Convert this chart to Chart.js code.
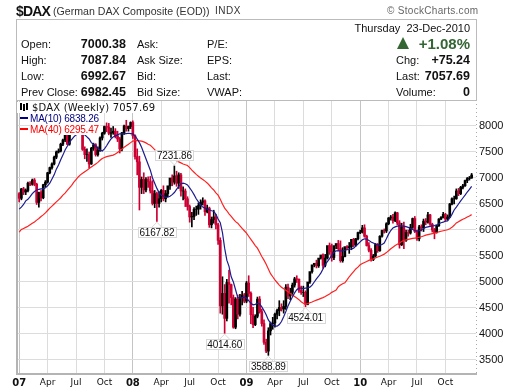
<!DOCTYPE html>
<html>
<head>
<meta charset="utf-8">
<title>$DAX</title>
<script src="https://cdn.jsdelivr.net/npm/chart.js@4"></script>
<style>
    html, body { margin: 0; padding: 0; background: #fff; }
    #page { position: relative; width: 520px; height: 391px; overflow: hidden; font-family: "Liberation Sans", Arial, sans-serif; color: #111; }
    #page canvas { position: absolute; left: 0; top: 0; }
    .t { position: absolute; white-space: nowrap; font-size: 11px; line-height: 14px; }
    .b { font-weight: bold; font-size: 12.5px; }
    .r { text-align: right; }
    #box { position: absolute; left: 16px; top: 19px; width: 459px; height: 80px; border: 1px solid #bbb; }
    .leg { position: absolute; white-space: nowrap; background: #fff; padding-right: 1px; }
</style>
</head>
<body>
<div id="page">
    <canvas id="daxChart" width="520" height="391"></canvas>
    <div id="box"></div>
    <div class="t b" style="left:16px;top:3px;font-size:14px;line-height:16px;letter-spacing:-0.8px">$DAX</div>
    <div class="t" style="left:53px;top:4px;font-size:10.6px;color:#333">(German DAX Composite (EOD))</div>
    <div class="t" style="left:215px;top:4px;font-size:10px;letter-spacing:0.5px;color:#333">INDX</div>
    <div class="t" style="left:387px;top:4px;font-size:10px;letter-spacing:0.3px;color:#666">© StockCharts.com</div>

    <div class="t" style="left:21px;top:37px">Open:</div>
    <div class="t" style="left:21px;top:53px">High:</div>
    <div class="t" style="left:21px;top:69px">Low:</div>
    <div class="t" style="left:21px;top:85px">Prev Close:</div>
    <div class="t b r" style="left:66px;width:60px;top:37px">7000.38</div>
    <div class="t b r" style="left:66px;width:60px;top:53px">7087.84</div>
    <div class="t b r" style="left:66px;width:60px;top:69px">6992.67</div>
    <div class="t b r" style="left:66px;width:60px;top:85px">6982.45</div>
    <div class="t" style="left:137px;top:37px">Ask:</div>
    <div class="t" style="left:137px;top:53px">Ask Size:</div>
    <div class="t" style="left:137px;top:69px">Bid:</div>
    <div class="t" style="left:137px;top:85px">Bid Size:</div>
    <div class="t" style="left:207px;top:37px">P/E:</div>
    <div class="t" style="left:207px;top:53px">EPS:</div>
    <div class="t" style="left:207px;top:69px">Last:</div>
    <div class="t" style="left:207px;top:85px">VWAP:</div>

    <div class="t r" style="left:340px;width:130px;top:21px">Thursday&nbsp; 23-Dec-2010</div>
    <div style="position:absolute;left:397px;top:37px;width:0;height:0;border-left:6px solid transparent;border-right:6px solid transparent;border-bottom:12px solid #336633"></div>
    <div class="t b r" style="left:400px;width:70px;top:35px;font-size:15px;line-height:17px;color:#336633">+1.08%</div>
    <div class="t" style="left:396px;top:53px">Chg:</div>
    <div class="t b r" style="left:410px;width:60px;top:53px">+75.24</div>
    <div class="t" style="left:396px;top:69px">Last:</div>
    <div class="t b r" style="left:410px;width:60px;top:69px">7057.69</div>
    <div class="t" style="left:396px;top:85px">Volume:</div>
    <div class="t b r" style="left:410px;width:60px;top:85px">0</div>

    <div style="position:absolute;left:17px;top:102px;width:15px;height:11px;background:#fff"></div>
    <div style="position:absolute;left:20px;top:103px;width:2px;height:7px;background:#000"></div>
    <div style="position:absolute;left:23px;top:104px;width:2px;height:7px;background:#000"></div>
    <div style="position:absolute;left:26px;top:103px;width:2px;height:7px;background:#000"></div>
    <div class="leg" style="left:32px;top:102px;font:10px/11px 'DejaVu Sans',sans-serif;letter-spacing:0.2px;color:#111">$DAX (Weekly) 7057.69</div>
    <div style="position:absolute;left:20px;top:117px;width:8px;height:2px;background:#000080"></div>
    <div class="leg" style="left:30px;top:113px;font:10px/11px 'Liberation Sans',sans-serif;letter-spacing:-0.2px;color:#000080">MA(10) 6838.26</div>
    <div style="position:absolute;left:20px;top:128px;width:8px;height:2px;background:#ff0000"></div>
    <div class="leg" style="left:30px;top:124px;font:10px/11px 'Liberation Sans',sans-serif;letter-spacing:-0.2px;color:#ff0000">MA(40) 6295.47</div>
</div>

<script>
// weekly bars, Jan 2007 to Dec 2010
const opens = [
    6700,6610,6790,6730,6760,6900,6880,6960,6880,6530,
    6720,6620,6870,6920,7100,7200,7270,7400,7500,7520,
    7650,7730,7880,7650,8030,7900,8000,8090,8080,7900,
    7550,7450,7450,7270,7570,7640,7450,7530,7770,7860,
    7990,7980,7860,7870,7900,7810,7750,7560,7870,8000,
    7950,7990,
    8067,7810,7410,7310,6820,6970,6770,6970,6930,6750,
    6510,6700,6510,6600,6760,6600,6700,6850,7000,6920,
    7040,6900,7060,6750,6750,6600,6450,6250,6260,6400,
    6400,6470,6530,6560,6350,6420,6100,6200,6250,6100,
    5800,4540,4780,4300,4990,4950,4700,4130,4670,4380,
    4700,4750,
    4630,4980,4780,4370,4180,4340,4670,4430,4200,3840,
    3670,4060,4200,4210,4380,4450,4510,4480,4530,4900,
    4730,4800,4940,5060,5050,4840,4800,4800,4570,5000,
    5200,5330,5360,5310,5460,5520,5320,5460,5700,5580,
    5470,5700,5740,5640,5410,5490,5680,5660,5680,5820,
    5710,5830,
    5950,5960,6040,5880,5700,5610,5430,5500,5720,5600,
    5880,5990,5980,6120,6230,6250,6180,6330,6135,5715,
    6060,5800,5950,5940,6050,6220,5970,5830,6060,6040,
    6170,6150,6290,6110,6000,5950,6080,6210,6240,6300,
    6210,6250,6500,6600,6600,6750,6700,6820,6850,6950,
    6990,7000
];
const highs = [
    6720,6800,6820,6790,6920,6930,6980,6990,6900,6730,
    6760,6880,6950,7110,7210,7290,7420,7520,7560,7670,
    7750,7900,7890,8050,8060,8010,8110,8120,8100,7920,
    7600,7560,7500,7590,7670,7660,7600,7790,7880,8000,
    8060,8050,7960,7990,7950,7900,7780,7880,8020,8110,
    8000,8080,
    8100,7830,7560,7420,7020,7100,7010,7020,7030,6950,
    6760,6730,6740,6780,6850,6760,6760,6880,7060,7231,
    7130,7100,7090,6830,6790,6640,6480,6340,6430,6460,
    6520,6580,6620,6580,6480,6440,6250,6380,6300,6130,
    5850,5100,4950,5050,5230,4960,4750,4700,4750,4760,
    4820,4780,
    5010,5120,4810,4510,4370,4710,4720,4480,4270,3900,
    4120,4230,4320,4400,4480,4640,4580,4640,4950,4960,
    4880,4980,5090,5120,5060,4920,4920,4830,4640,5060,
    5220,5350,5420,5390,5480,5540,5530,5480,5750,5730,
    5620,5720,5800,5790,5660,5530,5700,5760,5730,5840,
    5840,5960,
    6000,6090,6100,5900,5760,5640,5530,5740,5740,5890,
    6000,6020,6140,6240,6280,6300,6350,6340,6180,6130,
    6150,6000,6000,6110,6230,6260,6000,6090,6100,6210,
    6220,6340,6300,6130,6030,6090,6220,6260,6340,6320,
    6290,6510,6620,6650,6790,6800,6840,6880,6960,7010,
    7030,7088
];
const lows = [
    6540,6580,6680,6680,6730,6850,6860,6850,6490,6440,
    6560,6600,6830,6900,7080,7170,7250,7370,7480,7500,
    7620,7700,7640,7630,7880,7850,7970,8040,7880,7530,
    7370,7320,7190,7260,7530,7420,7420,7510,7730,7840,
    7890,7830,7780,7840,7770,7700,7480,7520,7840,7900,
    7900,7950,
    7760,7360,7060,6384,6700,6700,6730,6820,6710,6480,
    6430,6167,6440,6540,6560,6540,6640,6780,6850,6880,
    6840,6800,6650,6580,6450,6380,6150,6060,6200,6280,
    6300,6400,6480,6280,6330,6050,6040,6130,6020,5720,
    4400,4380,4014,4250,4590,4560,4110,4100,4290,4340,
    4560,4600,
    4600,4720,4200,4120,4160,4310,4400,4150,3800,3640,
    3589,3980,4090,4130,4290,4350,4440,4400,4470,4680,
    4660,4750,4900,4990,4800,4760,4720,4524,4560,4970,
    5170,5290,5270,5280,5440,5260,5290,5440,5530,5400,
    5430,5640,5600,5380,5380,5480,5620,5550,5620,5680,
    5690,5810,
    5930,5940,5860,5690,5580,5400,5410,5480,5570,5590,
    5860,5940,5950,6100,6190,6130,6160,6100,5650,5700,
    5640,5780,5880,5920,6030,5950,5800,5790,5980,5970,
    6100,6130,6090,5960,5830,5940,6070,6200,6230,6170,
    6190,6240,6480,6500,6590,6660,6680,6790,6840,6910,
    6960,6993
];
const closes = [
    6610,6790,6730,6760,6900,6880,6960,6880,6530,6720,
    6620,6870,6920,7100,7200,7270,7400,7500,7520,7650,
    7730,7880,7650,8030,7900,8000,8090,8080,7900,7550,
    7450,7450,7270,7570,7640,7450,7530,7770,7860,7990,
    7980,7860,7870,7900,7810,7750,7560,7870,8000,7950,
    7990,8067,
    7810,7410,7310,6820,6970,6770,6970,6930,6750,6510,
    6700,6510,6600,6760,6600,6700,6850,7000,6920,7040,
    6900,7060,6750,6750,6600,6450,6250,6260,6400,6400,
    6470,6530,6560,6350,6420,6100,6200,6250,6100,5800,
    4540,4780,4300,4990,4950,4700,4130,4670,4380,4700,
    4750,4630,
    4980,4780,4370,4180,4340,4670,4430,4200,3840,3670,
    4060,4200,4210,4380,4450,4510,4480,4530,4900,4730,
    4800,4940,5060,5050,4840,4800,4800,4570,5000,5200,
    5330,5360,5310,5460,5520,5320,5460,5700,5580,5470,
    5700,5740,5640,5410,5490,5680,5660,5680,5820,5710,
    5830,5950,
    5960,6040,5880,5700,5610,5430,5500,5720,5600,5880,
    5990,5980,6120,6230,6250,6180,6330,6135,5715,6060,
    5800,5950,5940,6050,6220,5970,5830,6060,6040,6170,
    6150,6290,6110,6000,5950,6080,6210,6240,6300,6210,
    6250,6500,6600,6600,6750,6700,6820,6850,6950,6990,
    7000,7057.69
];
const ma10 = [
    6400,6440,6490,6560,6590,6640,6700,6740,6770,6780,
    6790,6790,6810,6850,6900,6980,7060,7170,7250,7350,
    7440,7540,7610,7680,7740,7790,7830,7850,7860,7850,
    7830,7790,7750,7680,7650,7610,7570,7540,7520,7560,
    7620,7690,7750,7790,7810,7830,7850,7850,7850,7855,
    7860,7855,7850,7810,7750,7680,7590,7480,7370,7260,
    7150,7000,6900,6800,6720,6670,6650,6630,6630,6650,
    6680,6720,6780,6840,6890,6900,6890,6865,6810,6750,
    6680,6600,6540,6480,6440,6420,6400,6390,6370,6360,
    6300,6210,6140,5950,5650,5420,5300,5100,5000,4850,
    4700,4690,4700,4710,4690,4640,4590,4560,4570,4590,
    4580,4520,4450,4370,4270,4210,4170,4150,4150,4180,
    4240,4330,4430,4540,4630,4710,4790,4850,4880,4880,
    4875,4880,4885,4900,4940,5000,5060,5110,5170,5250,
    5340,5390,5450,5510,5570,5600,5600,5600,5600,5610,
    5620,5625,5635,5650,5690,5730,5770,5810,5830,5825,
    5800,5770,5750,5730,5715,5710,5720,5750,5830,5920,
    5990,6040,6060,6075,6080,6080,6075,6065,6050,6030,
    6010,5990,5980,5985,6000,6030,6050,6060,6070,6080,
    6085,6100,6120,6140,6150,6170,6175,6230,6300,6385,
    6440,6500,6560,6615,6670,6730,6780,6838.26
];
const ma40 = [
    5960,6010,6030,6050,6070,6100,6130,6155,6190,6220,
    6260,6290,6330,6375,6420,6460,6500,6540,6580,6620,
    6670,6710,6760,6810,6860,6920,6970,7020,7060,7090,
    7120,7150,7180,7210,7240,7270,7300,7340,7375,7395,
    7410,7420,7430,7440,7460,7490,7520,7560,7590,7620,
    7650,7680,7710,7720,7720,7715,7710,7695,7675,7650,
    7630,7590,7545,7500,7470,7440,7425,7410,7395,7380,
    7365,7350,7330,7310,7290,7270,7255,7240,7200,7150,
    7110,7070,7035,7000,6970,6940,6905,6860,6810,6770,
    6715,6670,6590,6500,6420,6370,6310,6260,6210,6160,
    6130,6080,6030,5985,5940,5880,5820,5760,5700,5650,
    5570,5490,5420,5340,5250,5160,5100,5040,4990,4940,
    4900,4870,4840,4810,4780,4750,4720,4690,4660,4620,
    4590,4575,4585,4600,4615,4635,4650,4665,4685,4700,
    4720,4745,4770,4800,4820,4845,4910,4940,4965,4985,
    5040,5100,5150,5200,5250,5285,5330,5355,5375,5395,
    5415,5430,5445,5460,5480,5495,5515,5535,5565,5600,
    5640,5670,5700,5725,5750,5780,5800,5810,5820,5830,
    5838,5845,5850,5860,5870,5885,5900,5910,5920,5930,
    5940,5950,5965,5975,5985,5995,6005,6025,6050,6090,
    6135,6160,6185,6205,6225,6250,6270,6295.47
];

// axis ticks
const xTickWeeks = [1, 14, 27, 40, 53, 66, 79, 92, 105, 118, 131, 144, 157, 170, 183, 196];
const xTickLabels = ['07', 'Apr', 'Jul', 'Oct', '08', 'Apr', 'Jul', 'Oct', '09', 'Apr', 'Jul', 'Oct', '10', 'Apr', 'Jul', 'Oct'];
const yTicks = [3500, 4000, 4500, 5000, 5500, 6000, 6500, 7000, 7500, 8000];

// turning points that get a callout
const calloutWeeks = [64, 72, 95, 115, 132];
const calloutValues = [6167.82, 7231.86, 4014.60, 3588.89, 4524.01];
const calloutAbove = [false, true, false, false, false];

const UP_COLOR = '#000000';
const DOWN_COLOR = '#cc0033';

// x slot 0 is empty, bars start at slot 1
const weeks = [];
for (let i = 0; i <= 210; i++) weeks.push(i);

const bodies = [null];
const wicks = [null];
const barColors = ['#000'];
closes.forEach(function(c, i) {
    bodies.push([opens[i], c]);
    wicks.push([lows[i], highs[i]]);
    barColors.push(c < opens[i] ? DOWN_COLOR : UP_COLOR);
});

function isYearTick(i) {
    return xTickLabels[i] && xTickLabels[i].length === 2;
}

const calloutPlugin = {
    id: 'callouts',
    afterDatasetsDraw(chart) {
        const ctx = chart.ctx;
        const x = chart.scales.x;
        const y = chart.scales.y;
        ctx.save();
        ctx.font = '10px "Liberation Sans", sans-serif';
        ctx.letterSpacing = '-0.2px';
        ctx.textAlign = 'center';
        ctx.textBaseline = 'middle';
        calloutWeeks.forEach(function(week, i) {
            const px = x.getPixelForValue(week);
            const py = y.getPixelForValue(calloutValues[i]);
            const dir = calloutAbove[i] ? -1 : 1;
            const cy = py + dir * 11;
            const text = calloutValues[i].toFixed(2);
            const w = ctx.measureText(text).width + 3;

            ctx.strokeStyle = '#d8d8d8';
            ctx.lineWidth = 1;
            ctx.beginPath();
            ctx.moveTo(px - 5, cy - dir * 5);
            ctx.lineTo(px, py + dir);
            ctx.lineTo(px + 5, cy - dir * 5);
            ctx.stroke();

            ctx.fillStyle = '#fff';
            ctx.fillRect(Math.round(px - w / 2) + 0.5, Math.round(cy - 5) + 0.5, Math.round(w), 10);
            ctx.strokeRect(Math.round(px - w / 2) + 0.5, Math.round(cy - 5) + 0.5, Math.round(w), 10);
            ctx.fillStyle = '#111';
            ctx.fillText(text, px, cy + 1);
        });
        ctx.restore();
    }
};

// left edge and the dotted right edge of the plot
const framePlugin = {
    id: 'frame',
    beforeDatasetsDraw(chart) {
        const a = chart.chartArea;
        const ctx = chart.ctx;
        ctx.save();
        ctx.fillStyle = '#b4b4b4';
        ctx.fillRect(a.left - 1, a.top, 2, a.bottom - a.top);
        ctx.strokeStyle = '#aaaaaa';
        ctx.lineWidth = 1;
        ctx.setLineDash([1, 3]);
        ctx.beginPath();
        ctx.moveTo(a.right + 0.5, a.top);
        ctx.lineTo(a.right + 0.5, a.bottom);
        ctx.stroke();
        ctx.restore();
    }
};

new Chart(document.getElementById('daxChart').getContext('2d'), {
    type: 'bar',
    data: {
        labels: weeks,
        datasets: [
            { type: 'line', data: [null].concat(ma40), borderColor: '#ff2020', borderWidth: 1.2, pointRadius: 0, order: 1 },
            { type: 'line', data: [null].concat(ma10), borderColor: '#1c1c90', borderWidth: 1.2, pointRadius: 0, order: 0 },
            { data: bodies, backgroundColor: barColors, barThickness: 2, grouped: false, order: 2 },
            { data: wicks, backgroundColor: barColors, barThickness: 1, grouped: false, order: 3 }
        ]
    },
    options: {
        responsive: false,
        animation: false,
        layout: { padding: { left: 17, top: 100, right: 0, bottom: 0 } },
        plugins: { legend: { display: false }, tooltip: { enabled: false } },
        scales: {
            x: {
                type: 'category',
                offset: false,
                afterBuildTicks: function(axis) {
                    axis.ticks = xTickWeeks.map(function(w) { return { value: w }; });
                },
                afterFit: function(axis) { axis.height = 17; },
                grid: {
                    offset: false,
                    drawTicks: false,
                    color: function(c) { return isYearTick(c.index) ? '#c4c4c4' : '#dcdcdc'; }
                },
                border: { color: '#b4b4b4', width: 2 },
                ticks: {
                    autoSkip: false,
                    maxRotation: 0,
                    padding: 3,
                    color: '#111',
                    font: function(c) {
                        return isYearTick(c.index)
                            ? { family: '"DejaVu Sans"', size: 10, weight: 'bold' }
                            : { family: '"DejaVu Sans"', size: 9 };
                    },
                    callback: function(value, index) { return xTickLabels[index]; }
                }
            },
            y: {
                position: 'right',
                min: 3230,
                max: 8500,
                afterBuildTicks: function(axis) {
                    axis.ticks = yTicks.map(function(v) { return { value: v }; });
                },
                afterFit: function(axis) { axis.width = 44; },
                grid: { color: '#dcdcdc', drawTicks: false },
                border: { display: false },
                ticks: {
                    padding: 3,
                    color: '#111',
                    font: { family: '"Liberation Sans"', size: 11 },
                    callback: function(value) { return value; }
                }
            }
        }
    },
    plugins: [framePlugin, calloutPlugin]
});
</script>
</body>
</html>
